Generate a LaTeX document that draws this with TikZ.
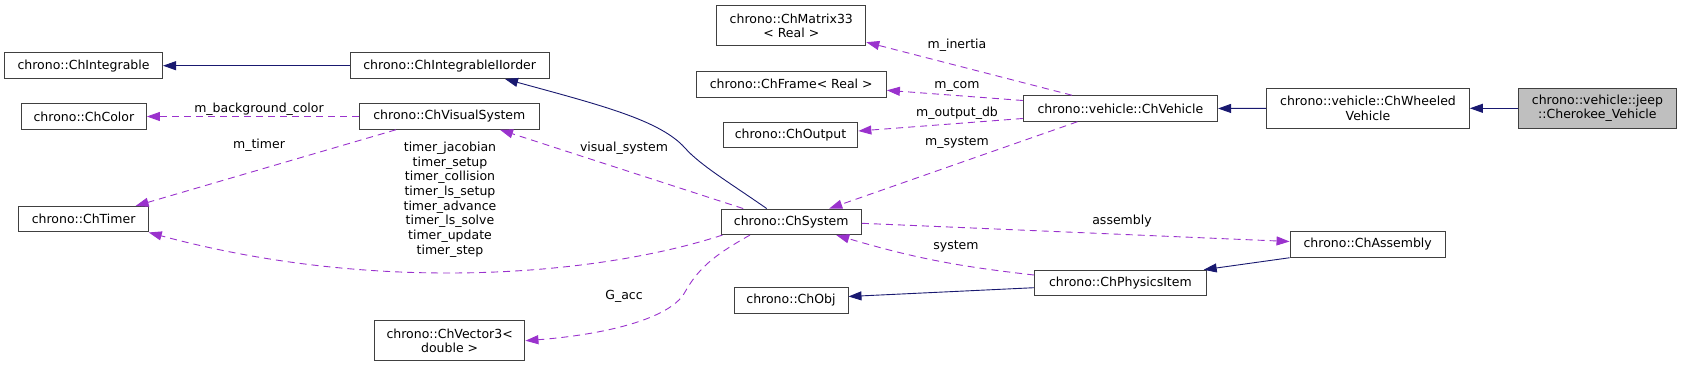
\documentclass[tikz,border=0pt]{standalone}
\usepackage{fontspec}
\setmainfont{DejaVu Sans}
\usepackage{xcolor}
\definecolor{EdgeNavy}{RGB}{25, 25, 112}
\definecolor{EdgePurple}{RGB}{154, 50, 205}
\definecolor{BoxGrey}{RGB}{64, 64, 64}
\definecolor{FocusFill}{RGB}{191, 191, 191}
\usetikzlibrary{arrows.meta}

\begin{document}
\begin{tikzpicture}[
    x=1pt, y=-1pt,
    font=\fontsize{12.5}{14.7}\selectfont,
    cls/.style={rectangle, draw=BoxGrey, line width=1pt, inner sep=0pt, minimum height=25.5pt, align=center},
    tall/.style={cls, minimum height=40pt},
    focus/.style={tall, fill=FocusFill},
    inherit/.style={-{Triangle[length=13pt, width=9pt]}, EdgeNavy, line width=0.9pt},
    member/.style={-{Triangle[length=13pt, width=9pt]}, EdgePurple, line width=0.9pt, dash pattern=on 7pt off 5pt},
    lbl/.style={inner sep=0pt, align=center}
]
\useasboundingbox (0,0) rectangle (1681,367);

% Classes
\node[cls, minimum width=158pt] (integrable) at (83.5, 65.7) {chrono::ChIntegrable};
\node[cls, minimum width=198.6pt] (iiorder) at (449.7, 65.7) {chrono::ChIntegrableIIorder};
\node[cls, minimum width=125pt] (color) at (83.9, 116.5) {chrono::ChColor};
\node[cls, minimum width=180pt] (visual) at (449.3, 116.5) {chrono::ChVisualSystem};
\node[cls, minimum width=129.3pt] (timer) at (83.6, 219.2) {chrono::ChTimer};
\node[tall, minimum width=150.7pt] (vector) at (449.6, 340.7) {chrono::ChVector3<\\double >};
\node[tall, minimum width=149pt] (matrix) at (791.3, 25.7) {chrono::ChMatrix33\\< Real >};
\node[cls, minimum width=190.4pt] (frame) at (791.2, 84.3) {chrono::ChFrame< Real >};
\node[cls, minimum width=134.7pt] (output) at (790.5, 135) {chrono::ChOutput};
\node[cls, minimum width=140.4pt] (system) at (791.2, 221.8) {chrono::ChSystem};
\node[cls, minimum width=114pt] (obj) at (791, 300.5) {chrono::ChObj};
\node[cls, minimum width=194.3pt] (vehicle) at (1120.4, 108.5) {chrono::vehicle::ChVehicle};
\node[cls, minimum width=171.7pt] (physics) at (1120.4, 283) {chrono::ChPhysicsItem};
\node[tall, minimum width=202.7pt] (wheeled) at (1368, 108.3) {chrono::vehicle::ChWheeled\\Vehicle};
\node[cls, minimum width=155.3pt] (assembly) at (1367.7, 244.5) {chrono::ChAssembly};
\node[focus, minimum width=157.4pt] (cherokee) at (1597.4, 108.3) {chrono::vehicle::jeep\\::Cherokee\_Vehicle};

% Inheritance
\draw[inherit] (iiorder.west) -- (integrable.east);
\draw[inherit] ([xshift=-24.5pt]system.north) .. controls (730,183) and (700,165) .. (685,148)
    .. controls (660,120) and (600,105) .. ([xshift=55.3pt]iiorder.south);
\draw[inherit] (wheeled.west) -- (vehicle.east);
\draw[inherit] (cherokee.west) -- (wheeled.east);
\draw[inherit] ([yshift=-4.7pt]physics.west) -- ([yshift=4pt]obj.east);
\draw[inherit] (assembly.south west) -- ([xshift=83.3pt]physics.north);

% Members
\draw[member] (visual.west) -- (color.east);
\draw[member] ([xshift=-53.3pt]visual.south) -- ([xshift=52pt]timer.north);
\draw[member] ([xshift=-48pt]system.north) -- ([xshift=50.7pt]visual.south);
\draw[member] ([xshift=2pt]system.south west) .. controls (600,275) and (380,295) .. (timer.south east);
\draw[member] ([xshift=-41.2pt]system.south) .. controls (720,252) and (700,265) .. (685,292)
    .. controls (670,320) and (600,335) .. (vector.east);
\draw[member] ([xshift=-48.4pt]vehicle.north) -- ([yshift=4pt]matrix.south east);
\draw[member] ([yshift=8pt]vehicle.west) -- ([yshift=-6pt]frame.east);
\draw[member] ([yshift=-10pt]vehicle.west) -- ([yshift=4pt]output.east);
\draw[member] ([xshift=-43pt]vehicle.south) -- ([xshift=38pt]system.north);
\draw[member] ([yshift=-1.5pt]system.east) -- ([yshift=3pt]assembly.west);
\draw[member] ([yshift=8pt]physics.west) to[bend left=5] ([xshift=45pt]system.south);

% Labels
\node[lbl] (lbgcolor) at (259, 109) {m\_background\_color};
\node[lbl] (lmtimer) at (259, 145) {m\_timer};
\node[lbl] (ltimers) at (450, 199.5) {timer\_jacobian\\timer\_setup\\timer\_collision\\timer\_ls\_setup\\timer\_advance\\timer\_ls\_solve\\timer\_update\\timer\_step};
\node[lbl] (lvisual) at (624, 148) {visual\_system};
\node[lbl] (lgacc) at (624, 296.7) {G\_acc};
\node[lbl] (linertia) at (957, 45.7) {m\_inertia};
\node[lbl] (lcom) at (957, 86) {m\_com};
\node[lbl] (loutput) at (957, 113) {m\_output\_db};
\node[lbl] (lmsystem) at (957, 143) {m\_system};
\node[lbl] (lsystem) at (956, 246.7) {system};
\node[lbl] (lassembly) at (1122, 221) {assembly};

\end{tikzpicture}
\end{document}
